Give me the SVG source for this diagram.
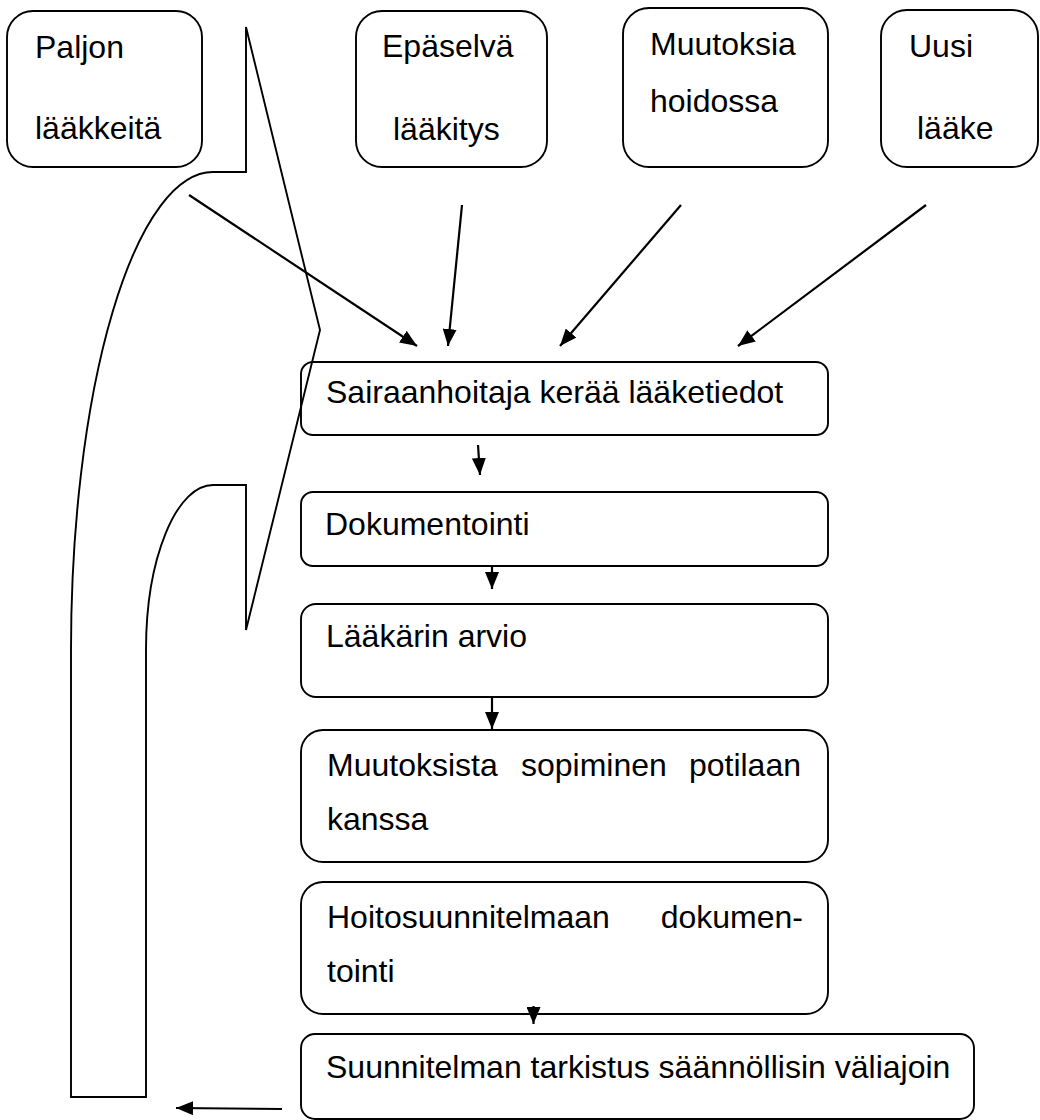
<svg xmlns="http://www.w3.org/2000/svg" width="1040" height="1120" viewBox="0 0 1040 1120">
  <style>
    .box { fill: none; stroke: #000; stroke-width: 1.9; }
    .t { font-family: "Liberation Sans", Arial, sans-serif; font-size: 32px; fill: #000; }
    .arr { stroke: #000; stroke-width: 2.2; fill: none; marker-end: url(#ah); }
    .shape { fill: none; stroke: #000; stroke-width: 1.9; stroke-linejoin: miter; }
  </style>
  <defs>
    <marker id="ah" markerUnits="userSpaceOnUse" markerWidth="17" markerHeight="14" refX="17" refY="7" orient="auto">
      <path d="M0,0 L17,7 L0,14 Z" fill="#000"/>
    </marker>
  </defs>
  <rect width="1040" height="1120" fill="#fff"/>

  <g id="loop-shape">
    <path class="shape" d="M 246 27 L 320 330 L 246 630 L 246 485 L 213 485 A 67 165 0 0 0 146 650 L 146 1097 L 71 1097 L 71 650 A 142 478 0 0 1 213 172 L 246 172 Z"/>
  </g>

  <g id="node-paljon">
    <rect class="box" x="7" y="11" width="195" height="156" rx="26"/>
    <text class="t" x="35" y="58">Paljon</text>
    <text class="t" x="35" y="139">lääkkeitä</text>
  </g>
  <g id="node-epaselva">
    <rect class="box" x="356" y="11" width="191" height="156" rx="26"/>
    <text class="t" x="382" y="57">Epäselvä</text>
    <text class="t" x="393" y="140">lääkitys</text>
  </g>
  <g id="node-muutoksia">
    <rect class="box" x="623" y="8" width="205" height="159" rx="26"/>
    <text class="t" x="650" y="55">Muutoksia</text>
    <text class="t" x="650" y="112">hoidossa</text>
  </g>
  <g id="node-uusi">
    <rect class="box" x="881" y="10" width="157" height="157" rx="26"/>
    <text class="t" x="909" y="57">Uusi</text>
    <text class="t" x="917" y="139">lääke</text>
  </g>

  <g id="node-keraa">
    <rect class="box" x="301" y="362" width="527" height="73" rx="12"/>
    <text class="t" x="326" y="403">Sairaanhoitaja kerää lääketiedot</text>
  </g>
  <g id="node-dokumentointi">
    <rect class="box" x="301" y="492" width="527" height="74" rx="12"/>
    <text class="t" x="325" y="535">Dokumentointi</text>
  </g>
  <g id="node-arvio">
    <rect class="box" x="301" y="604" width="527" height="93" rx="15"/>
    <text class="t" x="326" y="647">Lääkärin arvio</text>
  </g>
  <g id="node-sopiminen">
    <rect class="box" x="301" y="730" width="527" height="132" rx="22"/>
    <text class="t" x="327" y="776">Muutoksista</text>
    <text class="t" x="521" y="776">sopiminen</text>
    <text class="t" x="801" y="776" text-anchor="end">potilaan</text>
    <text class="t" x="327" y="830">kanssa</text>
  </g>
  <g id="node-hoitosuunnitelma">
    <rect class="box" x="301" y="882" width="527" height="132" rx="22"/>
    <text class="t" x="327" y="928">Hoitosuunnitelmaan</text>
    <text class="t" x="803" y="928" text-anchor="end">dokumen-</text>
    <text class="t" x="327" y="982">tointi</text>
  </g>
  <g id="node-tarkistus">
    <rect class="box" x="301" y="1034" width="673" height="85" rx="14"/>
    <text class="t" x="326" y="1078">Suunnitelman tarkistus säännöllisin väliajoin</text>
  </g>

  <g id="connectors">
    <line class="arr" x1="189" y1="195" x2="417" y2="346"/>
    <line class="arr" x1="462" y1="205" x2="448" y2="346"/>
    <line class="arr" x1="681" y1="205" x2="560" y2="346"/>
    <line class="arr" x1="926" y1="205" x2="738" y2="346"/>
    <line class="arr" x1="478" y1="445" x2="480" y2="475"/>
    <line class="arr" x1="492" y1="566" x2="492" y2="589"/>
    <line class="arr" x1="492" y1="697" x2="492" y2="729"/>
    <line class="arr" x1="533.5" y1="1006" x2="533.5" y2="1024"/>
    <line class="arr" x1="282" y1="1109" x2="176" y2="1108"/>
  </g>
</svg>
